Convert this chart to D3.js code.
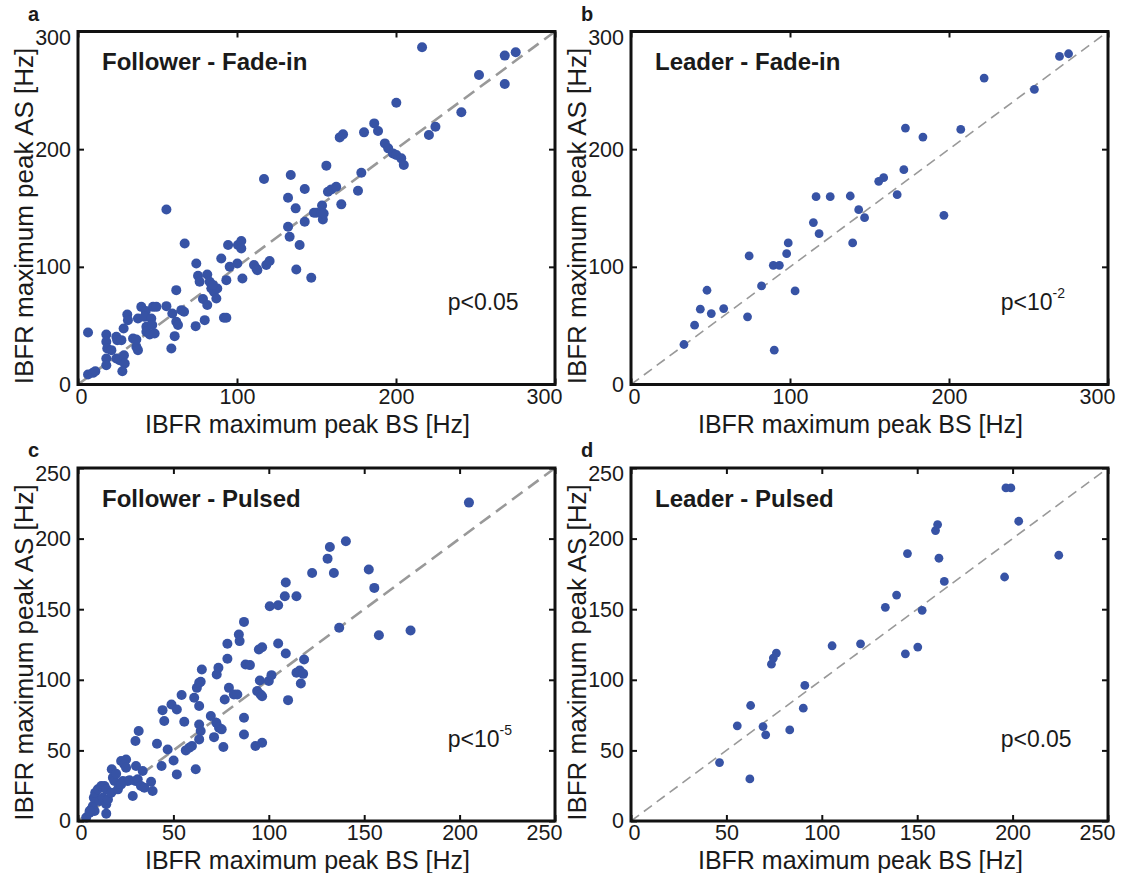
<!DOCTYPE html>
<html>
<head>
<meta charset="utf-8">
<script src="https://cdn.jsdelivr.net/npm/d3@7"></script>
<style>
  body { margin: 0; background: #fff; }
  svg text { font-family: "Liberation Sans", Arial, Helvetica, sans-serif; fill: #1a1a1a; }
</style>
</head>
<body>
<div id="container"></div>
<script>
/* DATA  -  [BS, AS] pairs in Hz */
const followerFadeIn = [
  [6.3,44.2],[6.3,8.5],[9.4,9.9],[10.9,11.3],[17.8,42.5],[17.8,36.3],[18.4,30.6],[17.8,22.1],[17.8,16.4],
  [21,29.2],[24.1,40.5],[24.7,37.7],[27.3,37.7],[28.7,47.6],[24.1,22.1],[26.2,20.7],[28.9,24.9],[29.4,17.9],
  [27.9,11.3],[31,59.5],[31.4,54.7],[34.6,39.1],[36.7,32],[37.7,29.2],[36.7,38.3],[39.8,66],[42.6,62.4],
  [37.7,56.1],[41.9,57.5],[46.1,56.1],[47.2,66],[49.3,66],[43,49],[43,44.8],[45.1,42.5],[48.2,43.4],[46.7,50.5],
  [55.6,148.8],[55.6,66.6],[58.7,30.6],[60.8,41.1],[59.3,60.4],[61.8,53.3],[62.9,50.5],[65,63.2],[66.7,61.8],
  [61.8,80.2],[67.1,119.9],[74,49.6],[79.7,54.7],[74.4,102.9],[75.5,92.4],[76.5,87.3],[78.6,72.6],[81.3,67.5],
  [81.3,93.5],[82.8,87.3],[83.9,81.6],[85.5,78.8],[87,73.1],[87.6,81.6],[84.9,84.5],[90.1,107.1],[91.8,56.7],
  [93.3,56.7],[93.3,88.7],[95.4,100],[94.4,118.5],[100.6,118.5],[102.7,121.9],[102.7,115.6],[100.2,102.9],
  [103.4,90.1],[110.7,101.5],[112.2,98.6],[112.8,97.2],[118.4,101.5],[120.5,104.9],[117,174.6],[132.1,158.7],
  [133.8,178],[136.9,149.7],[142.6,166.1],[132.1,134.1],[133.1,125.6],[139.4,118.5],[142.6,138.3],[137.3,97.8],
  [146.7,90.7],[148.4,146],[156.2,186],[153.5,152.1],[149.9,146],[153,145.4],[154,140.3],[154.5,145.4],
  [157.2,163.8],[159.3,165.8],[162.4,168.1],[165.6,153.1],[164.6,210],[166.7,212.6],[176.1,164.7],[178.2,180],
  [179.9,214.3],[186.3,221.9],[188.7,215.4],[193,204.9],[195.1,200.7],[198.1,196.4],[200.2,195],[203.3,192.2],
  [204.9,186.5],[200.2,239.5],[220.7,212],[224.8,219.1],[216.4,286.6],[241.1,231.3],[252.2,263],[268.4,279.5],
  [275.3,282.3],[268.4,255.4]
];

const leaderFadeIn = [
  [33.3,34],[40,50.4],[43.6,64],[47.8,80.1],[50.5,60.3],[58.3,64.5],[73.3,57.5],[74.3,109.3],[82.1,83.8],
  [89.5,101.3],[93.3,101.3],[90.1,29.2],[97.9,111.2],[98.9,120.3],[103.2,79.5],[114.7,137.6],[116.4,159.6],
  [118.3,128.2],[125.3,159.6],[137.9,160.2],[139.4,120.3],[143.2,148.6],[146.9,141.8],[155.8,172.7],[158.9,175.8],
  [167.4,161.3],[171.6,182.6],[172.6,217.9],[183.6,210.3],[196.8,143.8],[207.4,216.8],[222.1,260.4],[253.7,250.8],
  [269.5,278.8],[275.2,281.1]
];

const followerPulsed = [
  [4.3,2.4],[6.1,5.9],[7,8.3],[7.8,10.6],[8.7,7.1],[6.1,7.1],[8.3,16.5],[9,20],[10.4,22.4],[12.2,24.8],
  [13.9,24.8],[14.8,22.4],[11.3,14.2],[13,16.5],[14.8,11.8],[15.7,15.3],[14.8,5.2],[17.4,20],[18.3,30.7],
  [19.1,28.3],[17.7,36.6],[20,33.5],[20.9,22.4],[22.6,42.5],[25.2,43.6],[24.3,40.1],[25.2,37.7],[23.5,28.3],
  [26.1,28.3],[27,28.8],[22.6,25.9],[28.7,17.7],[30.1,28.3],[31.3,29.5],[30.4,38.9],[30.1,56.6],[31.8,63.7],
  [33.9,35.4],[33,24.8],[34.8,23.6],[38.3,27.8],[39.1,21.2],[41.4,54.7],[43.8,38.9],[44.3,78.5],[45.2,70.8],
  [47,50.7],[49,82.5],[51.8,79],[50.1,42.9],[51.8,33],[54.3,89.2],[55.7,70.3],[56.5,50],[58.3,51.9],[59.7,53.1],
  [60.9,87.3],[62.3,94.3],[63.5,97.9],[64.3,98.6],[64.9,107.3],[63.5,81.4],[61.7,36.6],[63.5,68.4],[64.3,63.7],
  [63.5,57.8],[69.6,74.3],[71.3,59.4],[72.7,103.8],[73.6,108.5],[72.5,69.6],[73.9,66],[75.3,64.9],[76.2,52.4],
  [76.9,86.1],[78.3,114.9],[78.3,125.5],[79.1,94.3],[81.7,89.6],[83.5,89.6],[84.3,132.1],[84.7,127.4],[87,141],
  [87,73.1],[87,61.3],[87.8,110.8],[90.1,110.4],[93,53.1],[96.5,55.4],[93.9,92],[95.7,89.6],[96.5,88.4],
  [94.8,121.5],[96.5,123.1],[95.3,99.5],[100,99.1],[100.5,152.1],[104.9,152.8],[108.9,168.9],[108.4,159.2],
  [114.5,159.2],[122.7,175.6],[130.8,185.8],[132,194.1],[134.1,175.6],[140.4,198.1],[152.4,178.1],[155.3,165.1],
  [136.9,136.8],[157.7,131.6],[174.3,134.9],[204.9,225.5],[104.9,125.7],[108.9,118.6],[114.5,105],[116.2,106.6],
  [118,104.2],[118.5,114.4],[116.8,97.4],[110.1,85.6],[101.4,103.3]
];

const leaderPulsed = [
  [46.4,41.4],[55.7,67.4],[62.7,81.8],[62.3,29.8],[69.2,66.9],[70.6,61],[73.6,111.1],[74.6,115.4],[76.2,118.9],
  [83.2,64.5],[90.3,79.9],[91.1,96],[105.4,124.1],[120.3,125.5],[133.3,151.3],[139.2,160],[143.8,118.4],
  [144.9,189.4],[150.3,123.2],[152.6,149.2],[159.6,205.7],[160.7,209.9],[161.4,186.1],[164.2,169.7],
  [195.8,172.8],[196.5,235.9],[199.1,235.9],[203.2,212.3],[224.2,188.2]
];

const fadeTicks = [0, 100, 200, 300];
const pulsedTicks = [0, 50, 100, 150, 200, 250];
const panelLetters = ["a", "b", "c", "d"];
const panelTitles = ["Follower - Fade-in", "Leader - Fade-in", "Follower - Pulsed", "Leader - Pulsed"];
const pValues = [["p<0.05", ""], ["p<10", "-2"], ["p<10", "-5"], ["p<0.05", ""]];

/* LAYOUT */
const width = 1124, height = 873;
const plotW = 477, plotH = 353;
const lefts = [78, 631, 78, 631];
const tops = [31.5, 31.5, 468, 468];
const dotColor = "#3753a5";

const panels = [
  { data: followerFadeIn, ticks: fadeTicks, r: 5, dashW: 2.6, dash: "13,7" },
  { data: leaderFadeIn, ticks: fadeTicks, r: 4.4, dashW: 1.6, dash: "10,6" },
  { data: followerPulsed, ticks: pulsedTicks, r: 5, dashW: 2.6, dash: "13,7" },
  { data: leaderPulsed, ticks: pulsedTicks, r: 4.4, dashW: 1.6, dash: "10,6" }
];

const svg = d3.select("#container")
  .append("svg")
  .attr("width", width)
  .attr("height", height);

panels.forEach((p, i) => {
  const maxV = d3.max(p.ticks);
  const xScale = d3.scaleLinear().domain([0, maxV]).range([0, plotW]);
  const yScale = d3.scaleLinear().domain([0, maxV]).range([plotH, 0]);

  const g = svg.append("g").attr("transform", `translate(${lefts[i]},${tops[i]})`);

  // diagonal
  g.append("line")
    .attr("x1", xScale(0)).attr("y1", yScale(0))
    .attr("x2", xScale(maxV)).attr("y2", yScale(maxV))
    .attr("stroke", "#999")
    .attr("stroke-width", p.dashW)
    .attr("stroke-dasharray", p.dash);

  // dots
  g.selectAll("circle")
    .data(p.data)
    .join("circle")
    .attr("cx", d => xScale(d[0]))
    .attr("cy", d => yScale(d[1]))
    .attr("r", p.r)
    .attr("fill", dotColor);

  // axes, ticks point inward
  const xAxis = g.append("g")
    .attr("transform", `translate(0,${plotH})`)
    .call(d3.axisBottom(xScale).tickValues(p.ticks).tickSize(-6).tickPadding(4));
  const yAxis = g.append("g")
    .call(d3.axisLeft(yScale).tickValues(p.ticks).tickSize(-6).tickPadding(7));
  g.append("g")
    .call(d3.axisTop(xScale).tickValues(p.ticks).tickSize(-6).tickFormat(""));
  g.append("g")
    .attr("transform", `translate(${plotW},0)`)
    .call(d3.axisRight(yScale).tickValues(p.ticks).tickSize(-6).tickFormat(""));

  g.selectAll(".domain").remove();
  g.selectAll(".tick line").attr("stroke", "#111").attr("stroke-width", 2);
  g.selectAll(".tick text").attr("font-size", 21.5).attr("fill", "#1a1a1a");

  // end labels sit a bit inside, like the original
  xAxis.selectAll(".tick text").attr("dx", (d, k) => k === 0 ? 3 : (d === maxV ? -11 : 0));
  yAxis.selectAll(".tick text").attr("dy", d => d === maxV ? "0.6em" : "0.32em");

  // frame
  g.append("rect")
    .attr("width", plotW).attr("height", plotH)
    .attr("fill", "none")
    .attr("stroke", "#111")
    .attr("stroke-width", 3);

  // title
  g.append("text")
    .attr("x", 24).attr("y", 38.5)
    .attr("font-size", 24).attr("font-weight", "bold")
    .text(panelTitles[i]);

  // p value
  const pt = g.append("text")
    .attr("x", xScale(maxV * 0.775)).attr("y", yScale(maxV * 0.21))
    .attr("font-size", 23)
    .text(pValues[i][0]);
  if (pValues[i][1]) {
    pt.append("tspan").attr("font-size", 14).attr("dy", -12).text(pValues[i][1]);
  }

  // panel letter
  svg.append("text")
    .attr("x", lefts[i] - 50).attr("y", tops[i] - 11)
    .attr("font-size", 20).attr("font-weight", "bold")
    .text(panelLetters[i]);

  // axis labels
  svg.append("text")
    .attr("x", lefts[i] + plotW / 2 - 9).attr("y", tops[i] + plotH + 48)
    .attr("text-anchor", "middle")
    .attr("font-size", 25)
    .text("IBFR maximum peak BS [Hz]");
  svg.append("text")
    .attr("transform", `translate(${lefts[i] - 45},${tops[i] + plotH / 2 + 8}) rotate(-90)`)
    .attr("text-anchor", "middle")
    .attr("font-size", 26)
    .text("IBFR maximum peak AS [Hz]");
});
</script>
</body>
</html>
